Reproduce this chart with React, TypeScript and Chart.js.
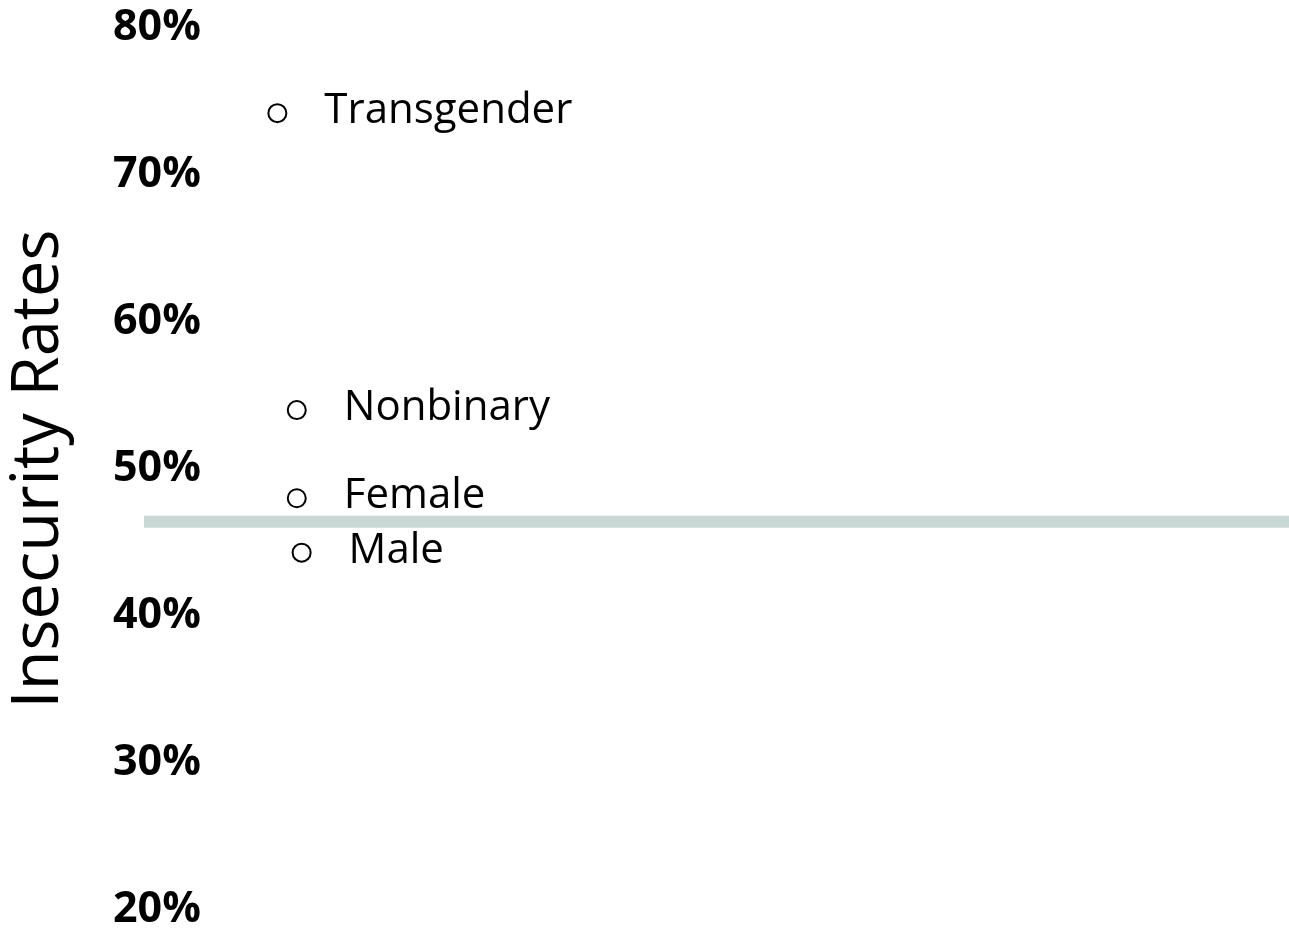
import React, { useEffect, useRef } from "react";
import { Chart, registerables } from "chart.js";

Chart.register(...registerables);

// ---- data ----
const groups: string[] = ["Transgender", "Nonbinary", "Female", "Male"];
const insecurityRates: number[] = [73.8, 53.6, 47.6, 43.9];
const groupPositions: number[] = [16.6, 18.2, 18.2, 18.6];
const referenceRate: number = 46.0;
const referenceSpan: number[] = [5.6, 100];
const yTickValues: number[] = [20, 30, 40, 50, 60, 70, 80];
const yAxisTitle = "Insecurity Rates";

const FONT = "'Open Sans', 'DejaVu Sans', sans-serif";

const pointLabelPlugin = {
  id: "pointLabels",
  afterLayout(chart: any) {
    // nudge the axis title box slightly downward (drawing only)
    const y = chart.scales.y;
    if (y) {
      y.top += 6;
      y.bottom += 6;
    }
  },
  afterDatasetsDraw(chart: any) {
    const meta = chart.getDatasetMeta(1);
    const ctx = chart.ctx;
    ctx.save();
    ctx.fillStyle = "#000000";
    ctx.font = `42px ${FONT}`;
    ctx.textAlign = "left";
    ctx.textBaseline = "alphabetic";
    meta.data.forEach((pt: any, i: number) => {
      ctx.fillText(groups[i], pt.x + 47, pt.y + 10);
    });
    ctx.restore();
  },
};

export default function App() {
  const canvasRef = useRef<HTMLCanvasElement | null>(null);

  useEffect(() => {
    if (!canvasRef.current) return;
    const chart = new Chart(canvasRef.current, {
      type: "scatter",
      data: {
        datasets: [
          {
            type: "line",
            label: "reference",
            data: referenceSpan.map((x) => ({ x, y: referenceRate })),
            borderColor: "#c8d9d5",
            borderWidth: 12,
            borderCapStyle: "butt",
            pointRadius: 0,
            fill: false,
            clip: false,
          } as any,
          {
            type: "scatter",
            label: "groups",
            data: groups.map((_, i) => ({ x: groupPositions[i], y: insecurityRates[i] })),
            pointRadius: 9,
            pointBorderWidth: 2,
            borderColor: "#000000",
            backgroundColor: "rgba(255,255,255,0)",
            pointBorderColor: "#000000",
            pointBackgroundColor: "rgba(255,255,255,0)",
            clip: false,
          } as any,
        ],
      },
      options: {
        animation: false,
        responsive: true,
        maintainAspectRatio: false,
        layout: { autoPadding: false, padding: { top: 22, bottom: 26, left: 0, right: 0 } },
        plugins: {
          legend: { display: false },
          tooltip: { enabled: false },
        },
        scales: {
          x: {
            type: "linear",
            min: 0,
            max: 100,
            display: false,
          },
          y: {
            type: "linear",
            min: 20,
            max: 80,
            border: { display: false },
            grid: { display: false, drawTicks: false },
            afterBuildTicks: (scale: any) => {
              scale.ticks = yTickValues.map((v) => ({ value: v }));
            },
            afterFit: (scale: any) => {
              scale.width = 76;
              scale.paddingTop = 0;
              scale.paddingBottom = 0;
            },
            ticks: {
              mirror: true,
              padding: 37,
              color: "#000000",
              font: { family: FONT, size: 43, weight: "bold", lineHeight: "12px" },
              callback: (v: any) => ["", `${v}%`],
            },
            title: {
              display: true,
              text: yAxisTitle,
              color: "#000000",
              font: { family: FONT, size: 65, weight: "normal" },
              padding: { top: 0, bottom: 0 },
            },
          },
        },
      },
      plugins: [pointLabelPlugin],
    });
    return () => chart.destroy();
  }, []);

  return (
    <div style={{ position: "fixed", left: 0, top: 0, width: 1289, height: 930, background: "#ffffff" }}>
      <canvas ref={canvasRef} />
    </div>
  );
}
